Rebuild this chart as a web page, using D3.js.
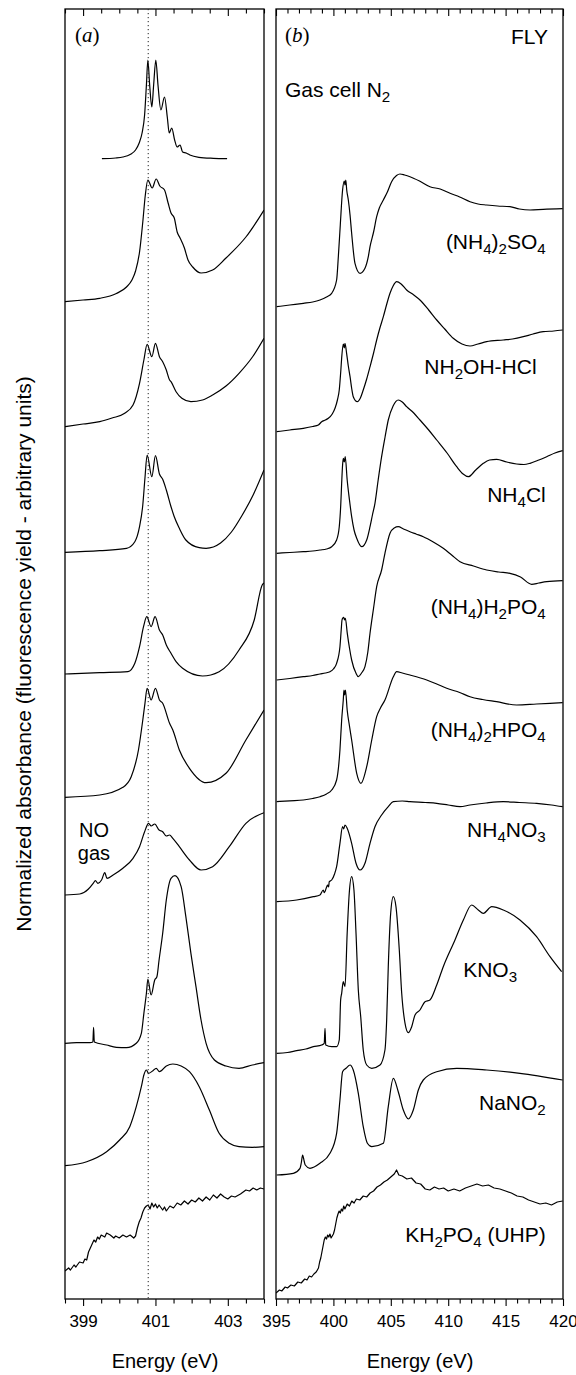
<!DOCTYPE html>
<html>
<head>
<meta charset="utf-8">
<script src="https://cdn.jsdelivr.net/npm/d3@7/dist/d3.min.js"></script>
<style>
body { margin: 0; background: #fff; }
svg text { font-family: "Liberation Sans", Arial, sans-serif; fill: #000; }
</style>
</head>
<body>
<svg id="main-svg" width="576" height="1375"></svg>
<script>
// ---- panel (a): detail near the N 1s -> pi* edge, energies in eV, stacked normalized absorbance ----
var aN2 = [[399.52,11.403],[399.9,11.41],[400.1,11.42],[400.3,11.445],[400.45,11.49],[400.55,11.56],[400.63,11.66],
  [400.7,11.84],[400.75,12.14],[400.79,12.39],[400.84,12.14],[400.9,11.92],[400.95,12.14],[401.01,12.39],[401.07,12.14],
  [401.15,11.89],[401.25,12.02],[401.33,11.81],[401.38,11.66],[401.45,11.71],[401.53,11.59],[401.6,11.52],[401.68,11.54],
  [401.75,11.47],[401.85,11.46],[401.95,11.44],[402.2,11.417],[402.6,11.407],[402.98,11.403]];
var aSO4 = [[398.5,9.973],[399.0,9.99],[399.46,10.007],[399.92,10.055],[400.2,10.12],[400.35,10.19],[400.45,10.28],
  [400.56,10.47],[400.65,10.77],[400.72,11.04],[400.79,11.19],[400.91,11.11],[401.02,11.2],[401.12,11.13],[401.25,11.09],
  [401.35,10.96],[401.43,10.86],[401.52,10.81],[401.6,10.67],[401.68,10.61],[401.8,10.51],[401.9,10.39],[402.03,10.32],
  [402.26,10.26],[402.58,10.29],[402.95,10.41],[403.13,10.473],[403.5,10.62],[404.0,10.89]];
var aNH2OH = [[398.5,8.723],[399.0,8.75],[399.46,8.773],[399.8,8.81],[400.15,8.857],[400.38,8.94],[400.56,9.157],
  [400.68,9.39],[400.77,9.547],[400.9,9.423],[401.0,9.557],[401.11,9.423],[401.2,9.373],[401.3,9.29],[401.39,9.19],
  [401.43,9.173],[401.57,9.073],[401.73,9.007],[401.98,8.973],[402.3,8.99],[402.58,9.04],[402.95,9.13],[403.31,9.257],
  [403.7,9.43],[404.0,9.607]];
var aNH4Cl = [[398.5,7.467],[399.46,7.483],[400.2,7.507],[400.43,7.573],[400.56,7.723],[400.65,7.94],[400.71,8.21],
  [400.77,8.44],[400.9,8.223],[401.0,8.433],[401.11,8.25],[401.2,8.197],[401.3,8.09],[401.43,7.923],[401.52,7.823],
  [401.66,7.707],[401.84,7.59],[402.21,7.513],[402.4,7.507],[402.8,7.56],[403.1,7.67],[403.4,7.84],[403.7,8.04],[404.0,8.29]];
var aH2PO4 = [[398.5,6.25],[399.46,6.263],[400.24,6.273],[400.43,6.357],[400.56,6.523],[400.67,6.723],[400.76,6.823],
  [400.88,6.723],[400.99,6.823],[401.11,6.69],[401.2,6.64],[401.3,6.54],[401.43,6.457],[401.57,6.373],[401.75,6.307],
  [402.3,6.23],[402.76,6.273],[403.31,6.49],[403.73,6.79],[403.95,7.14],[404.0,7.16]];
var aHPO4 = [[398.5,5.017],[399.46,5.04],[400.1,5.117],[400.33,5.223],[400.53,5.49],[400.65,5.79],[400.71,5.957],
  [400.77,6.107],[400.88,5.99],[401.0,6.107],[401.11,5.99],[401.2,5.957],[401.39,5.757],[401.48,5.69],[401.66,5.49],
  [401.94,5.307],[402.4,5.163],[402.95,5.257],[403.5,5.59],[404.0,5.89]];
var aNO = [[398.5,4.04],[398.91,4.05],[399.14,4.097],[399.28,4.157],[399.34,4.183],[399.41,4.157],[399.51,4.19],
  [399.6,4.263],[399.66,4.207],[399.83,4.24],[400.1,4.307],[400.38,4.407],[400.56,4.523],[400.7,4.673],[400.81,4.757],
  [400.88,4.73],[400.98,4.75],[401.1,4.69],[401.2,4.673],[401.3,4.63],[401.39,4.64],[401.48,4.607],[401.66,4.523],
  [401.94,4.39],[402.26,4.29],[402.58,4.323],[403.04,4.523],[403.5,4.757],[404.0,4.863]];
var aKNO3 = [[398.5,2.557],[398.82,2.563],[399.19,2.563],[399.27,2.57],[399.29,2.717],[399.31,2.57],[399.65,2.54],
  [399.92,2.517],[400.2,2.513],[400.47,2.557],[400.61,2.657],[400.68,2.857],[400.75,3.057],[400.79,3.197],[400.88,3.04],
  [400.98,3.19],[401.04,3.223],[401.1,3.39],[401.2,3.657],[401.3,3.99],[401.43,4.207],[401.54,4.233],[401.71,4.123],
  [401.84,3.823],[401.98,3.457],[402.12,3.123],[402.26,2.79],[402.4,2.557],[402.63,2.39],[402.95,2.33],[403.31,2.307],
  [403.68,2.34],[404.0,2.363]];
var aNaNO2 = [[398.5,1.333],[399.1,1.373],[399.65,1.473],[400.01,1.59],[400.29,1.723],[400.47,1.923],[400.61,2.123],
  [400.68,2.24],[400.75,2.29],[400.81,2.257],[400.93,2.283],[401.02,2.307],[401.11,2.273],[401.3,2.33],[401.48,2.35],
  [401.71,2.33],[401.94,2.273],[402.21,2.123],[402.49,1.89],[402.76,1.657],[403.04,1.557],[403.31,1.523],[403.68,1.517],
  [404.0,1.523]];
var aKH2PO4 = [[398.5,0.28],[398.6,0.31],[398.65,0.29],[398.75,0.34],[398.8,0.32],[398.9,0.37],[399.0,0.36],[399.05,0.40],
  [399.1,0.39],[399.15,0.47],[399.2,0.51],[399.25,0.55],[399.3,0.59],[399.35,0.57],[399.4,0.62],[399.45,0.60],[399.5,0.64],
  [399.6,0.62],[399.65,0.66],[399.75,0.64],[399.85,0.61],[399.9,0.63],[400.0,0.61],[400.1,0.64],[400.2,0.62],[400.3,0.64],
  [400.4,0.61],[400.45,0.63],[400.5,0.71],[400.55,0.77],[400.6,0.81],[400.65,0.87],[400.7,0.91],[400.75,0.93],[400.8,0.94],
  [400.85,0.90],[400.9,0.96],[400.95,0.92],[401.0,0.95],[401.05,0.91],[401.1,0.94],[401.2,0.89],[401.25,0.92],[401.3,0.88],
  [401.4,0.93],[401.5,0.91],[401.6,0.96],[401.7,0.94],[401.8,0.98],[401.9,0.95],[402.0,0.99],[402.1,0.97],[402.2,1.01],
  [402.3,0.98],[402.4,1.02],[402.5,0.99],[402.6,1.04],[402.7,1.01],[402.8,1.05],[402.9,1.02],[403.0,1.00],[403.1,1.03],
  [403.2,1.02],[403.35,1.05],[403.5,1.09],[403.6,1.08],[403.7,1.11],[403.8,1.09],[403.9,1.11],[404.0,1.10]];

// ---- panel (b): full N K-edge, 395-420 eV ----
var bSO4 = [[395.06,9.923],[396.2,9.94],[397.38,9.957],[398.2,9.97],[398.83,9.99],[399.4,10.02],[399.85,10.057],
  [400.28,10.19],[400.43,10.423],[400.6,10.74],[400.8,11.09],[400.95,11.18],[401.01,11.14],[401.08,11.19],[401.16,11.09],
  [401.3,10.99],[401.45,10.84],[401.59,10.657],[401.88,10.357],[402.32,10.257],[402.75,10.307],[403.04,10.423],
  [403.19,10.523],[403.5,10.67],[403.77,10.823],[404.0,10.91],[404.35,10.99],[404.7,11.07],[405.07,11.173],[405.5,11.235],
  [405.8,11.25],[406.2,11.24],[406.67,11.223],[407.5,11.18],[408.41,11.123],[409.3,11.10],[410.16,11.057],[411.0,11.02],
  [411.9,10.973],[412.6,10.95],[413.35,10.94],[414.3,10.93],[415.38,10.923],[416.2,10.90],[417.13,10.89],[418.28,10.897],
  [419.97,10.903]];
var bNH2OH = [[395.06,8.673],[396.2,8.69],[397.38,8.707],[398.2,8.725],[398.69,8.74],[398.98,8.773],[399.3,8.79],
  [399.56,8.807],[399.9,8.85],[400.14,8.907],[400.35,8.99],[400.51,9.09],[400.65,9.29],[400.72,9.41],[400.86,9.55],
  [400.95,9.51],[401.01,9.557],[401.15,9.457],[401.3,9.33],[401.45,9.223],[401.6,9.10],[401.73,9.023],[402.08,8.973],
  [402.35,9.01],[402.6,9.09],[402.9,9.20],[403.19,9.323],[403.5,9.46],[403.77,9.59],[404.05,9.71],[404.35,9.823],
  [404.65,9.95],[404.93,10.057],[405.2,10.13],[405.51,10.173],[405.9,10.15],[406.38,10.09],[407.0,10.04],[407.54,9.99],
  [408.3,9.89],[409.0,9.79],[409.7,9.70],[410.44,9.607],[411.2,9.55],[411.9,9.53],[412.6,9.55],[413.35,9.573],[414.8,9.59],
  [415.6,9.60],[416.54,9.623],[417.4,9.65],[418.28,9.673],[419.2,9.68],[419.97,9.69]];
var bNH4Cl = [[395.06,7.457],[396.2,7.465],[397.38,7.473],[398.2,7.48],[398.83,7.49],[399.4,7.50],[399.85,7.523],
  [400.28,7.59],[400.51,7.723],[400.64,7.94],[400.72,8.157],[400.8,8.34],[400.86,8.407],[400.95,8.37],[401.03,8.423],
  [401.2,8.19],[401.4,7.99],[401.59,7.823],[401.8,7.69],[402.03,7.607],[402.46,7.523],[402.9,7.59],[403.19,7.723],
  [403.4,7.84],[403.62,7.957],[403.9,8.19],[404.2,8.423],[404.5,8.62],[404.78,8.79],[405.2,8.93],[405.65,8.99],[406.0,8.97],
  [406.38,8.923],[407.0,8.86],[407.54,8.79],[408.3,8.69],[409.0,8.59],[409.9,8.46],[410.74,8.323],[411.3,8.25],
  [411.75,8.223],[412.4,8.29],[413.06,8.357],[413.6,8.39],[414.22,8.397],[415.1,8.37],[415.96,8.35],[416.6,8.345],
  [417.13,8.357],[417.9,8.39],[418.58,8.423],[419.3,8.46],[419.97,8.483]];
var bH2PO4 = [[395.06,6.19],[396.2,6.205],[397.38,6.223],[398.2,6.235],[398.83,6.25],[399.3,6.26],[399.7,6.273],
  [400.0,6.30],[400.28,6.357],[400.57,6.523],[400.68,6.69],[400.75,6.79],[400.82,6.81],[400.9,6.817],[400.97,6.79],
  [401.04,6.807],[401.21,6.657],[401.4,6.51],[401.59,6.39],[401.97,6.257],[402.17,6.223],[402.45,6.26],[402.75,6.323],
  [403.0,6.47],[403.19,6.657],[403.5,6.91],[403.77,7.123],[404.2,7.29],[404.49,7.457],[404.93,7.657],[405.3,7.71],
  [405.65,7.723],[406.1,7.70],[406.67,7.673],[407.2,7.65],[407.83,7.623],[408.7,7.57],[409.57,7.507],[410.3,7.44],
  [411.03,7.373],[412.2,7.33],[413.35,7.29],[414.4,7.27],[415.38,7.257],[416.3,7.22],[417.27,7.147],[417.9,7.16],
  [418.58,7.173],[419.97,7.183]];
var bHPO4 = [[395.06,4.973],[396.2,4.982],[397.38,4.99],[398.2,5.005],[398.83,5.023],[399.4,5.05],[399.85,5.09],
  [400.28,5.19],[400.57,5.49],[400.72,5.79],[400.86,5.99],[400.92,6.09],[400.98,6.04],[401.05,6.09],[401.2,5.89],
  [401.4,5.73],[401.59,5.59],[402.03,5.257],[402.4,5.157],[402.9,5.323],[403.34,5.59],[403.77,5.823],[404.1,5.91],
  [404.49,5.99],[405.22,6.223],[405.51,6.273],[406.0,6.26],[406.67,6.24],[408.13,6.19],[409.0,6.15],[409.87,6.107],
  [411.0,6.065],[411.9,6.023],[413.0,5.995],[414.22,5.973],[415.96,5.94],[417.7,5.95],[419.97,5.963]];
var bNO3 = [[395.06,3.973],[396.8,3.99],[398.25,4.023],[398.83,4.04],[399.12,4.09],[399.2,4.063],[399.42,4.123],
  [399.5,4.14],[399.58,4.12],[399.64,4.173],[399.85,4.19],[400.1,4.25],[400.28,4.323],[400.57,4.557],[400.8,4.723],
  [400.9,4.70],[401.01,4.74],[401.2,4.707],[401.59,4.557],[401.97,4.357],[402.32,4.29],[402.75,4.357],[403.19,4.557],
  [403.62,4.723],[404.2,4.84],[404.78,4.923],[405.22,4.973],[406.0,4.98],[406.67,4.973],[408.0,4.965],[409.0,4.957],
  [410.0,4.94],[411.03,4.923],[411.9,4.94],[413.3,4.96],[414.8,4.973],[416.2,4.965],[417.7,4.957],[419.0,4.94],[419.97,4.923]];
var bKNO3 = [[395.06,2.457],[396.0,2.465],[396.8,2.483],[397.6,2.50],[398.25,2.523],[398.98,2.54],[399.2,2.557],
  [399.27,2.707],[399.33,2.54],[399.85,2.523],[400.28,2.523],[400.51,2.59],[400.63,2.99],[400.72,3.057],[400.86,3.173],
  [401.01,3.123],[401.2,3.657],[401.38,4.057],[401.59,4.223],[401.79,4.09],[401.97,3.657],[402.17,3.09],[402.38,2.823],
  [402.6,2.49],[402.9,2.34],[403.34,2.307],[404.06,2.34],[404.49,2.49],[404.64,2.79],[404.78,3.323],[404.99,3.857],
  [405.22,4.023],[405.45,3.923],[405.74,3.49],[405.95,3.057],[406.24,2.757],[406.53,2.663],[406.82,2.723],[407.11,2.84],
  [407.54,2.89],[407.98,2.973],[408.41,2.99],[409.0,3.14],[409.57,3.323],[410.59,3.59],[411.32,3.79],[412.05,3.94],
  [412.62,3.89],[413.06,3.857],[413.79,3.923],[414.8,3.89],[416.25,3.79],[417.7,3.623],[418.87,3.423],[419.88,3.273]];
var bNaNO2 = [[395.06,1.24],[396.51,1.257],[397.09,1.307],[397.2,1.36],[397.32,1.44],[397.45,1.38],[397.55,1.34],
  [397.96,1.307],[398.83,1.357],[399.7,1.457],[400.28,1.657],[400.57,1.99],[400.8,2.273],[401.1,2.307],[401.45,2.34],
  [401.73,2.29],[402.17,2.057],[402.6,1.723],[402.96,1.557],[403.34,1.523],[404.35,1.557],[404.78,1.923],[405.22,2.207],
  [405.65,2.073],[406.09,1.89],[406.53,1.80],[406.96,1.89],[407.4,2.09],[407.83,2.19],[409.0,2.273],[410.74,2.307],
  [413.35,2.29],[416.25,2.257],[419.97,2.19]];
var bKH2PO4 = [[395.0,0.06],[395.3,0.09],[395.5,0.08],[395.8,0.12],[396.0,0.11],[396.3,0.14],[396.6,0.13],[396.9,0.17],
  [397.2,0.16],[397.5,0.20],[397.7,0.19],[397.9,0.23],[398.1,0.22],[398.3,0.25],[398.5,0.27],[398.7,0.31],[398.8,0.37],
  [398.9,0.41],[399.0,0.47],[399.1,0.53],[399.2,0.59],[399.3,0.62],[399.4,0.60],[399.5,0.64],[399.6,0.62],[399.7,0.65],
  [399.8,0.61],[399.9,0.63],[400.0,0.65],[400.1,0.69],[400.2,0.75],[400.3,0.81],[400.4,0.85],[400.5,0.88],[400.6,0.86],
  [400.7,0.90],[400.8,0.88],[400.9,0.93],[401.0,0.90],[401.2,0.95],[401.4,0.93],[401.6,0.98],[401.8,0.96],[402.0,1.00],
  [402.3,0.99],[402.6,1.03],[402.9,1.02],[403.2,1.06],[403.5,1.08],[403.8,1.12],[404.1,1.14],[404.4,1.17],[404.7,1.19],
  [405.0,1.22],[405.3,1.25],[405.5,1.29],[405.7,1.24],[406.0,1.23],[406.4,1.20],[406.8,1.21],[407.2,1.16],[407.6,1.15],
  [408.0,1.10],[408.4,1.09],[408.8,1.12],[409.2,1.10],[409.6,1.11],[410.0,1.08],[410.5,1.10],[411.0,1.08],[411.5,1.11],
  [412.0,1.13],[412.5,1.15],[413.0,1.13],[413.5,1.14],[414.0,1.11],[414.5,1.10],[415.0,1.08],[415.5,1.06],[416.0,1.03],
  [416.5,1.02],[417.0,0.99],[417.5,0.97],[418.0,0.95],[418.5,0.96],[419.0,0.94],[419.5,0.97],[419.97,0.98]];

var leftSeries = [aN2, aSO4, aNH2OH, aNH4Cl, aH2PO4, aHPO4, aNO, aKNO3, aNaNO2, aKH2PO4];
var rightSeries = [bSO4, bNH2OH, bNH4Cl, bH2PO4, bHPO4, bNO3, bKNO3, bNaNO2, bKH2PO4];
var noisy = [aKH2PO4, bKH2PO4];

// sample names, "_" marks a subscript piece
var sampleNames = [
  ["(NH", "_4", ")", "_2", "SO", "_4"],
  ["NH", "_2", "OH-HCl"],
  ["NH", "_4", "Cl"],
  ["(NH", "_4", ")H", "_2", "PO", "_4"],
  ["(NH", "_4", ")", "_2", "HPO", "_4"],
  ["NH", "_4", "NO", "_3"],
  ["KNO", "_3"],
  ["NaNO", "_2"],
  ["KH", "_2", "PO", "_4", " (UHP)"]
];
var gasName = ["Gas cell N", "_2"];

var leftDomain = [398.5, 404];
var rightDomain = [395, 420];
var leftMajor = [399, 401, 403];
var leftMinor = [398.5, 399.5, 400, 400.5, 401.5, 402, 402.5, 403.5, 404];
var rightMajor = [395, 400, 405, 410, 415, 420];
var rightMinor = [396, 397, 398, 399, 401, 402, 403, 404, 406, 407, 408, 409, 411, 412, 413, 414, 416, 417, 418, 419];
var refEnergy = 400.8;   // dotted line, first N2 pi* peak

var svg = d3.select('#main-svg');
var plotTop = 9, plotBottom = 1299;
var xL = d3.scaleLinear().domain(leftDomain).range([65, 264]);
var xR = d3.scaleLinear().domain(rightDomain).range([276, 563]);
var y = d3.scaleLinear().domain([0, 12.9]).range([plotBottom, plotTop]);

function drawPanel(x, series, major, minor, id) {
    var g = svg.append('g');
    g.append('clipPath').attr('id', id).append('rect')
        .attr('x', x.range()[0]).attr('y', plotTop)
        .attr('width', x.range()[1] - x.range()[0]).attr('height', plotBottom - plotTop);

    var curves = g.append('g').attr('clip-path', 'url(#' + id + ')');
    series.forEach(function(s) {
        var line = d3.line()
            .x(function(d) { return x(d[0]); })
            .y(function(d) { return y(d[1]); })
            .curve(noisy.indexOf(s) >= 0 ? d3.curveLinear : d3.curveMonotoneX);
        curves.append('path').attr('d', line(s))
            .attr('fill', 'none').attr('stroke', '#000')
            .attr('stroke-width', 1.2).attr('stroke-linejoin', 'round');
    });

    // ticks: bottom outward with labels, top inward
    [plotBottom, plotTop].forEach(function(yy) {
        var gMaj = g.append('g').attr('transform', 'translate(0,' + yy + ')')
            .call(d3.axisBottom(x).tickValues(major).tickSize(7).tickSizeOuter(0)
                .tickFormat(yy === plotBottom ? d3.format('d') : ''));
        var gMin = g.append('g').attr('transform', 'translate(0,' + yy + ')')
            .call(d3.axisBottom(x).tickValues(minor).tickSize(4.5).tickSizeOuter(0).tickFormat(''));
        [gMaj, gMin].forEach(function(a) {
            a.select('.domain').remove();
            a.selectAll('line').attr('stroke', '#000').attr('stroke-width', 1.1);
            a.selectAll('text').attr('font-size', 17).attr('fill', '#000')
                .attr('font-family', '"Liberation Sans", Arial, sans-serif').attr('dy', '1.05em');
        });
    });

    g.append('rect')
        .attr('x', x.range()[0]).attr('y', plotTop)
        .attr('width', x.range()[1] - x.range()[0]).attr('height', plotBottom - plotTop)
        .attr('fill', 'none').attr('stroke', '#000').attr('stroke-width', 1.3);
    return g;
}

function label(parts, px, py, anchor, size) {
    var t = svg.append('text').attr('x', px).attr('y', py)
        .attr('text-anchor', anchor).attr('font-size', size);
    var shifted = false;
    parts.forEach(function(p) {
        var sub = p.charAt(0) === '_';
        var ts = t.append('tspan').text(sub ? p.slice(1) : p);
        if (sub && !shifted) { ts.attr('dy', 5); shifted = true; }
        if (!sub && shifted) { ts.attr('dy', -5); shifted = false; }
        if (sub) ts.attr('font-size', size * 0.72);
    });
    return t;
}

var gL = drawPanel(xL, leftSeries, leftMajor, leftMinor, 'clipL');
drawPanel(xR, rightSeries, rightMajor, rightMinor, 'clipR');

gL.append('line')
    .attr('x1', xL(refEnergy)).attr('x2', xL(refEnergy))
    .attr('y1', plotTop).attr('y2', plotBottom)
    .attr('stroke', '#222').attr('stroke-width', 1).attr('stroke-dasharray', '1.2,2.8');

// panel letters
var pa = svg.append('text').attr('x', 75).attr('y', 42).attr('font-size', 21)
    .style('font-family', '"Liberation Serif", "Times New Roman", serif');
pa.append('tspan').text('(');
pa.append('tspan').attr('font-style', 'italic').text('a');
pa.append('tspan').text(')');
var pb = svg.append('text').attr('x', 285).attr('y', 42).attr('font-size', 21)
    .style('font-family', '"Liberation Serif", "Times New Roman", serif');
pb.append('tspan').text('(');
pb.append('tspan').attr('font-style', 'italic').text('b');
pb.append('tspan').text(')');
svg.append('text').attr('x', 548).attr('y', 44).attr('text-anchor', 'end')
    .attr('font-size', 21).text('FLY');

label(gasName, xR(395.78), y(12.02), 'start', 21);

// label anchors (energy, baseline) for the samples of panel (b)
var labelAt = [[418.5, 10.5], [417.7, 9.25], [418.5, 7.97], [418.5, 6.85], [418.5, 5.62],
               [418.5, 4.62], [416.0, 3.22], [418.5, 1.89], [418.5, 0.57]];
sampleNames.forEach(function(n, i) {
    label(n, xR(labelAt[i][0]), y(labelAt[i][1]), 'end', 21);
});

svg.append('text').attr('x', xL(399.3)).attr('y', y(4.62)).attr('text-anchor', 'middle')
    .attr('font-size', 20).text('NO');
svg.append('text').attr('x', xL(399.3)).attr('y', y(4.39)).attr('text-anchor', 'middle')
    .attr('font-size', 20).text('gas');

// axis titles
svg.append('text').attr('x', 165).attr('y', 1368).attr('text-anchor', 'middle')
    .attr('font-size', 20).text('Energy (eV)');
svg.append('text').attr('x', 420).attr('y', 1368).attr('text-anchor', 'middle')
    .attr('font-size', 20).text('Energy (eV)');
svg.append('text').attr('transform', 'translate(23,654) rotate(-90)')
    .attr('text-anchor', 'middle').attr('dominant-baseline', 'central')
    .attr('font-size', 21).text('Normalized absorbance (fluorescence yield - arbitrary units)');
</script>
</body>
</html>
